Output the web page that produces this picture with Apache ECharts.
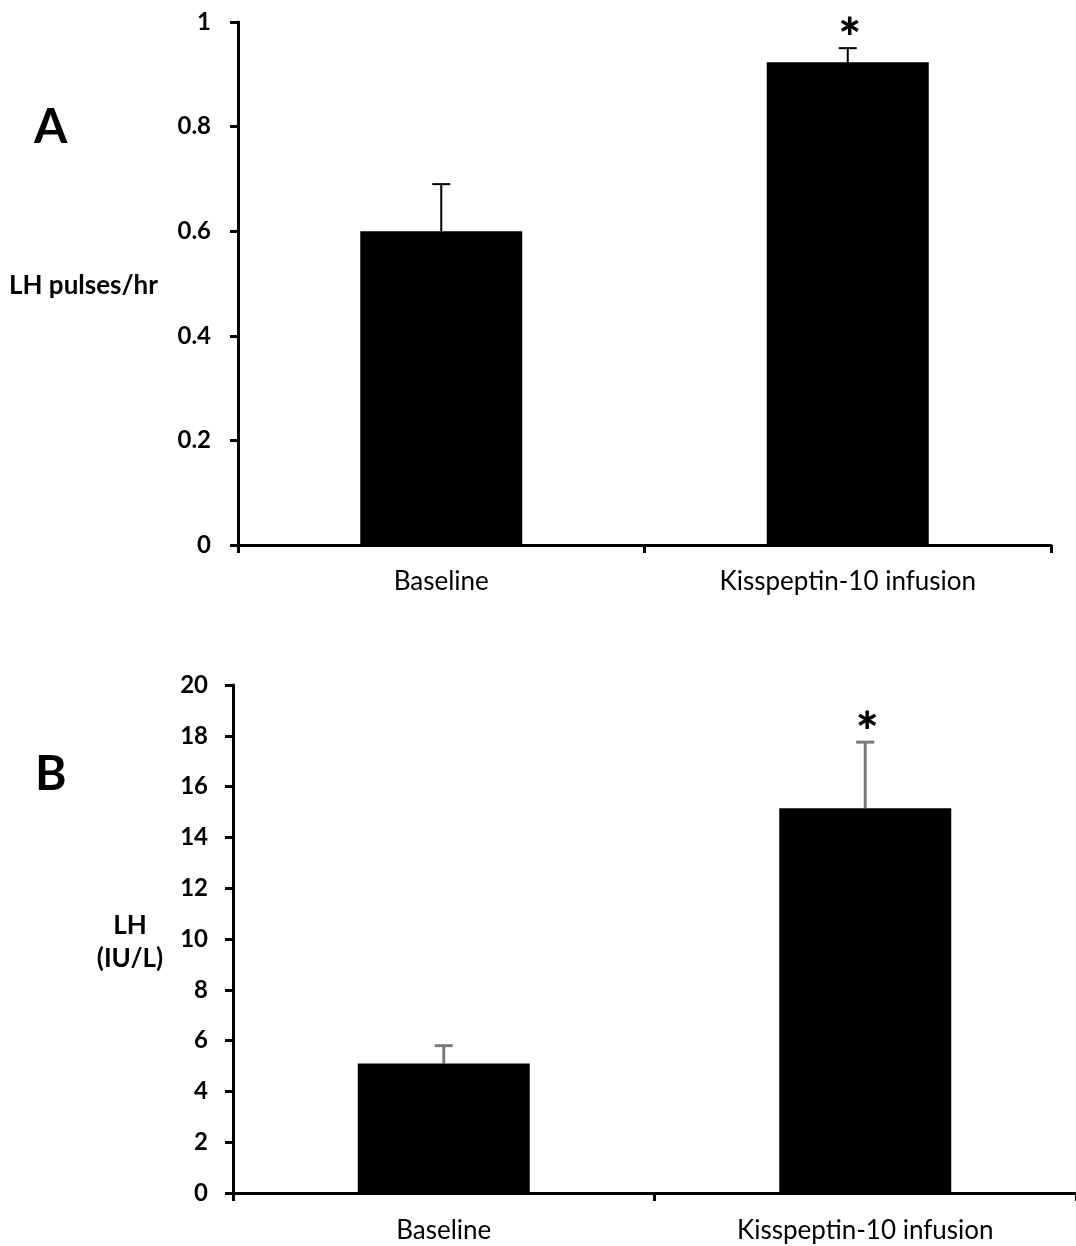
<!DOCTYPE html>
<html>
<head>
<meta charset="utf-8">
<script src="https://cdn.jsdelivr.net/npm/echarts@6/dist/echarts.min.js"></script>
<style>html,body{margin:0;padding:0;background:#fff}#c{width:1076px;height:1246px}</style>
</head>
<body>
<div id="c"></div>
<script>
const categories = ['Baseline', 'Kisspeptin-10 infusion'];
const pulsesMean = [0.60, 0.923];
const pulsesErr = [0.09, 0.027];
const pulsesSig = ['', '*'];
const lhMean = [5.1, 15.15];
const lhErr = [0.7, 2.6];
const lhSig = ['', '*'];

const FONT = 'Lato, "Open Sans", sans-serif';
const chart = echarts.init(document.getElementById('c'), null, {renderer: 'canvas'});

function errSeries(idx, means, errs, sig, color, lw) {
  return {
    type: 'custom', xAxisIndex: idx, yAxisIndex: idx, z: 1,
    data: means.map((m, i) => [i, m, m + errs[i], sig[i]]),
    renderItem: function (params, api) {
      const base = api.coord([api.value(0), api.value(1)]);
      const top = api.coord([api.value(0), api.value(2)]);
      const half = 9;
      const children = [
        {type: 'line', shape: {x1: base[0], y1: base[1], x2: top[0], y2: top[1]}, style: {stroke: color, lineWidth: lw}},
        {type: 'line', shape: {x1: top[0] - half, y1: top[1], x2: top[0] + half, y2: top[1]}, style: {stroke: color, lineWidth: lw}}
      ];
      const s = sig[params.dataIndex];
      if (s) {
        children.push({type: 'text', style: {text: s, x: top[0] + 2, y: top[1] - 9, textAlign: 'center', textVerticalAlign: 'middle', font: '900 54px ' + FONT, fill: '#000'}});
      }
      return {type: 'group', children: children};
    }
  };
}

const axisLine = {lineStyle: {color: '#000', width: 3}};
chart.setOption({
  animation: false,
  backgroundColor: '#fff',
  grid: [
    {left: 238, top: 22, width: 813, height: 523},
    {left: 233, top: 685, width: 843, height: 508}
  ],
  xAxis: [0, 1].map(i => ({
    type: 'category', gridIndex: i, data: categories, boundaryGap: true,
    axisLine: axisLine,
    axisTick: {show: true, length: 8, lineStyle: {color: '#000', width: 3}},
    axisLabel: {color: '#000', fontSize: 26, fontFamily: FONT, margin: i === 0 ? 24 : 25},
    splitLine: {show: false}
  })),
  yAxis: [
    {type: 'value', gridIndex: 0, min: 0, max: 1, interval: 0.2,
     axisLine: {show: true, lineStyle: {color: '#000', width: 3}},
     axisTick: {show: true, length: 8, lineStyle: {color: '#000', width: 3}},
     axisLabel: {color: '#000', fontSize: 24, fontFamily: FONT, fontWeight: 'bold', margin: 27},
     splitLine: {show: false}},
    {type: 'value', gridIndex: 1, min: 0, max: 20, interval: 2,
     axisLine: {show: true, lineStyle: {color: '#000', width: 3}},
     axisTick: {show: true, length: 8, lineStyle: {color: '#000', width: 3}},
     axisLabel: {color: '#000', fontSize: 24, fontFamily: FONT, fontWeight: 'bold', margin: 25},
     splitLine: {show: false}}
  ],
  graphic: [
    {type: 'text', left: 34, top: 104, style: {text: 'A', font: 'bold 48px ' + FONT, fill: '#000'}},
    {type: 'text', left: 35, top: 751, style: {text: 'B', font: 'bold 48px ' + FONT, fill: '#000'}},
    {type: 'text', left: 9, top: 273, style: {text: 'LH pulses/hr', font: 'bold 26px ' + FONT, fill: '#000'}},
    {type: 'text', x: 130, y: 909, style: {text: 'LH\n(IU/L)', textAlign: 'center', lineHeight: 33, font: 'bold 26px ' + FONT, fill: '#000'}}
  ],
  series: [
    {type: 'bar', xAxisIndex: 0, yAxisIndex: 0, data: pulsesMean, barWidth: 162, itemStyle: {color: '#000'}, z: 2},
    errSeries(0, pulsesMean, pulsesErr, pulsesSig, '#000', 2),
    {type: 'bar', xAxisIndex: 1, yAxisIndex: 1, data: lhMean, barWidth: 172, itemStyle: {color: '#000'}, z: 2},
    errSeries(1, lhMean, lhErr, lhSig, '#7a7a7a', 3)
  ]
});
</script>
</body>
</html>
